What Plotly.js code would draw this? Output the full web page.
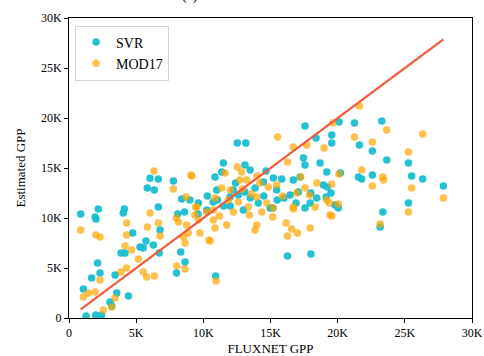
<!DOCTYPE html>
<html>
<head>
<meta charset="utf-8">
<script src="https://cdn.plot.ly/plotly-3.0.1.min.js"></script>
<style>html,body{margin:0;padding:0;background:#fff;}#chart{width:484px;height:356px;}</style>
</head>
<body>
<div id="chart"></div>
<script>
// FLUXNET GPP (x) vs estimated GPP (y), in thousands
const svrX = [6.03,6.65,7.77,5.83,6.35,8.39,6.65,2.18,0.87,4.12,4.04,8.09,1.94,9.0,9.63,10.25,10.87,11.0,11.05,
  2.01,4.74,3.87,4.17,5.29,5.73,5.53,6.28,6.78,6.72,8.32,8.64,8.0,2.13,2.31,1.69,1.07,3.43,3.55,4.42,3.05,3.18,1.27,1.99,2.43,10.92,
  17.57,12.53,13.16,19.56,19.56,18.39,17.45,17.57,18.69,11.49,13.1,13.48,19.19,14.67,11.37,14.47,15.21,15.84,17.2,18.94,19.23,16.7,
  12.23,12.6,13.1,13.85,15.46,16.46,17.07,18.44,14.09,14.97,19.8,10.74,11.99,17.57,12.98,
  16.26,18.0,15.17,17.95,
  20.1,21.25,23.28,22.58,23.65,25.27,21.62,21.54,21.79,22.58,25.51,26.33,27.87,19.14,20.05,25.27,23.36,23.16,
  12.0,13.5,14.5,15.5,16.0,16.9,18.0,19.5,20.2,11.5,12.4,10.3,9.6,8.6];
const svrY = [13.97,13.9,13.7,13.0,12.8,11.9,11.1,10.9,10.4,10.9,10.5,10.4,10.1,11.8,11.5,10.8,14.1,12.8,11.8,
  9.9,8.5,6.5,6.5,7.1,7.7,7.0,7.3,8.8,6.5,6.6,5.6,4.5,5.5,4.5,4.0,2.9,4.3,2.5,2.2,1.6,1.2,0.2,0.3,0.3,4.2,
  19.2,17.5,17.5,18.3,17.5,18.0,16.0,15.3,15.5,15.5,15.3,14.8,14.6,14.7,14.6,13.6,14.0,13.9,14.1,13.3,13.1,13.8,
  12.8,12.3,12.6,13.0,12.8,12.3,12.6,12.0,11.5,11.0,11.3,11.6,12.1,11.0,10.8,
  6.2,6.4,11.0,11.5,
  19.6,19.5,19.7,16.7,15.8,15.5,17.3,14.1,13.9,14.3,14.2,13.9,13.2,12.1,11.0,11.5,10.6,9.1,
  11.2,12.0,12.2,11.8,12.0,11.5,12.5,12.5,14.5,11.2,13.5,12.2,10.4,10.6];

const modX = [6.33,9.08,7.77,8.71,9.43,6.03,10.87,7.99,
  0.87,2.01,2.31,4.29,6.65,5.83,6.78,4.17,4.67,4.29,5.16,5.53,5.78,6.35,3.85,4.29,2.31,1.07,1.44,1.94,3.43,3.18,2.55,8.14,8.76,8.88,9.75,10.42,9.51,10.25,8.02,8.64,10.74,10.95,9.63,
  15.53,18.99,16.7,17.7,19.63,9.14,11.62,12.53,12.86,12.73,13.23,16.27,17.25,18.44,19.56,11.37,14.84,15.46,16.95,17.57,10.74,11.86,12.6,13.35,13.98,14.72,15.21,16.7,18.32,19.43,9.38,19.19,
  13.98,13.85,16.16,16.58,17.0,16.26,17.95,10.5,13.43,14.35,15.17,11.74,10.87,12.23,16.7,8.51,8.64,
  21.62,23.65,26.33,21.25,22.58,25.27,21.79,20.1,23.36,23.41,22.58,25.51,19.38,20.05,27.87,25.27,23.16,19.56,
  12.0,13.6,14.2,15.9,17.9,11.2,12.9,14.0];
const modY = [14.7,14.3,12.9,12.1,11.1,10.5,12.0,10.0,
  8.8,8.3,8.1,9.5,9.5,9.1,8.2,7.2,6.8,8.3,5.9,4.6,4.1,4.2,4.6,5.0,3.8,2.1,2.5,2.6,2.0,1.1,0.8,9.6,9.3,8.5,8.5,7.8,11.1,10.6,5.2,4.9,9.8,3.7,9.8,
  18.1,17.0,17.1,17.3,19.5,14.2,14.5,15.1,14.6,13.8,13.8,15.6,14.1,13.5,13.4,13.0,13.1,13.3,12.5,13.0,10.8,11.8,11.6,11.1,12.1,11.5,11.0,11.1,11.1,10.3,10.3,11.8,
  9.3,8.8,9.5,8.9,8.5,8.2,9.0,7.7,10.3,10.6,10.1,9.3,9.0,10.6,10.9,8.1,7.5,
  21.2,18.8,18.4,18.1,17.6,16.6,14.8,14.4,14.1,13.8,13.2,13.0,11.5,11.4,12.0,10.6,9.4,10.2,
  12.8,12.4,13.5,12.2,12.3,10.2,12.9,14.2];

const tickVals = [0,5,10,15,20,25,30];
const tickText = ["0","5K","10K","15K","20K","25K","30K"];

const allX = svrX.concat(modX);
const lineX = [Math.min(...allX), Math.max(...allX)];

const serif = "Liberation Serif, Times New Roman, serif";

const traces = [
  {x: svrX, y: svrY, type: "scatter", mode: "markers", name: "SVR",
   marker: {color: "#17becf", size: 7.5, opacity: 0.95}},
  {x: modX, y: modY, type: "scatter", mode: "markers", name: "MOD17",
   marker: {color: "#ffa500", size: 7.5, opacity: 0.7}},
  {x: lineX, y: lineX, type: "scatter", mode: "lines", showlegend: false,
   line: {color: "#f15a3a", width: 2.2}}
];

const axisCommon = {
  range: [0, 30], tickvals: tickVals, ticktext: tickText,
  showgrid: false, zeroline: false, showline: true, mirror: true,
  linecolor: "#000", linewidth: 1, ticks: "outside", ticklen: 4, tickcolor: "#000",
  tickfont: {family: serif, size: 12, color: "#000"}
};

const layout = {
  width: 484, height: 356,
  margin: {l: 69, r: 12, t: 18, b: 38},
  paper_bgcolor: "#fff", plot_bgcolor: "#fff",
  font: {family: serif, color: "#000"},
  xaxis: Object.assign({}, axisCommon, {title: {text: "FLUXNET GPP", font: {family: serif, size: 13}, standoff: 4}}),
  yaxis: Object.assign({}, axisCommon, {title: {text: "Estimated GPP", font: {family: serif, size: 13}, standoff: 12}}),
  legend: {x: 0.015, y: 0.975, xanchor: "left", yanchor: "top",
    bgcolor: "rgba(255,255,255,0.8)", bordercolor: "#d5d5d5", borderwidth: 1,
    font: {family: serif, size: 14, color: "#000"}, tracegroupgap: 2},
  annotations: [{text: "(a)", xref: "paper", yref: "paper", x: 0.30, y: 1.073,
    xanchor: "center", yanchor: "middle", showarrow: false,
    font: {family: serif, size: 14, color: "#000"}}],
  showlegend: true
};

Plotly.newPlot("chart", traces, layout, {displayModeBar: false, staticPlot: true});
</script>
</body>
</html>
